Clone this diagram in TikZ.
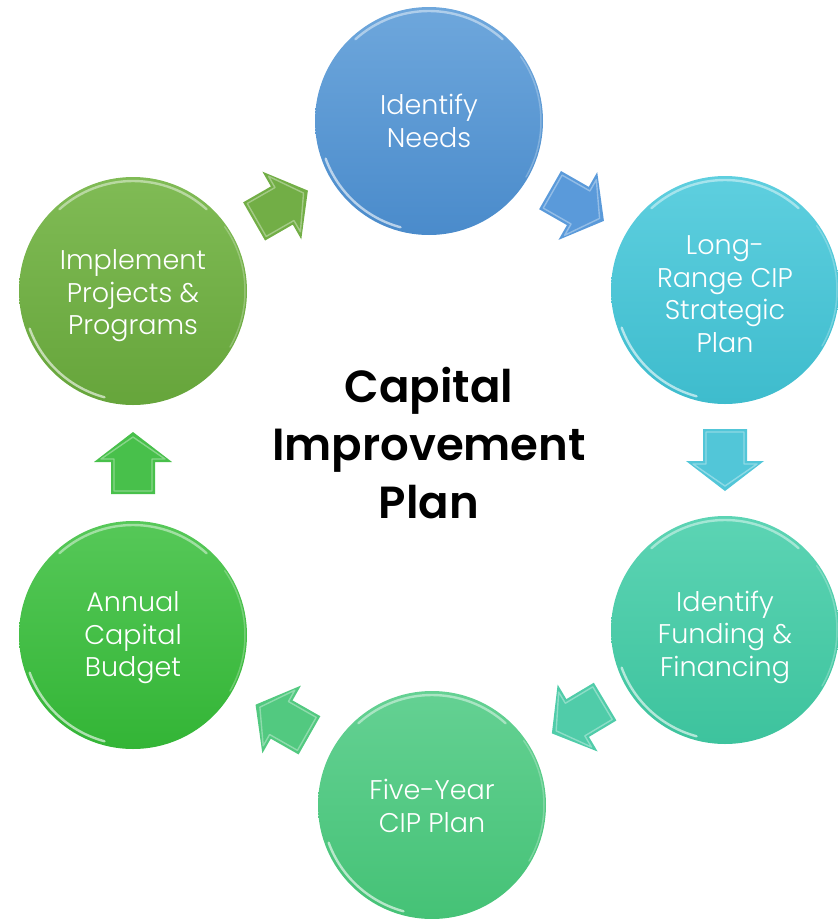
\documentclass[tikz,border=0pt]{standalone}
\usepackage{fontspec}
\setmainfont{Poppins}[UprightFont=* Light, BoldFont=* SemiBold]
\usetikzlibrary{calc}

% stage colours
\definecolor{needsT}{HTML}{6EA7DC}\definecolor{needsB}{HTML}{4A8BCB}
\definecolor{longT}{HTML}{5ECFDF}\definecolor{longB}{HTML}{3EBCCD}
\definecolor{fundT}{HTML}{5CD4B4}\definecolor{fundB}{HTML}{3DC39D}
\definecolor{fiveT}{HTML}{64D193}\definecolor{fiveB}{HTML}{45C276}
\definecolor{annT}{HTML}{56C858}\definecolor{annB}{HTML}{33B536}
\definecolor{implT}{HTML}{80BB55}\definecolor{implB}{HTML}{66A53B}
% arrow colours
\definecolor{arBlue}{HTML}{5A9ADA}
\definecolor{arCyan}{HTML}{52C6D8}
\definecolor{arTeal}{HTML}{50CCA9}
\definecolor{arMint}{HTML}{52C980}
\definecolor{arGreen}{HTML}{48C04B}
\definecolor{arOlive}{HTML}{72AE46}

\tikzset{
  stage/.style={circle, minimum size=228pt, inner sep=0pt, draw=none},
  stagetext/.style={text=white, align=center, inner sep=0pt,
    font=\fontsize{27}{32.5}\selectfont},
  rim/.style={white, opacity=.45, line width=2.4pt, line cap=round},
  pics/cyclearrow/.style={
    code={
      \fill[#1] (-31,-22) -- (1,-22) -- (1,-39) -- (31,0) -- (1,39)
                -- (1,22) -- (-31,22) -- cycle;
      \draw[white, opacity=.35, line width=1.4pt, line join=round]
        (-28,-19) -- (4,-19) -- (4,-32) -- (26,0) -- (4,32)
        -- (4,19) -- (-28,19) -- cycle;
    }
  }
}

% glossy highlights along the rim of a stage circle
\newcommand\glossrim[1]{%
  \draw[rim] ($(#1.center)+(228:110)$) arc[start angle=228, end angle=312, radius=110];
  \draw[rim, opacity=.6] ($(#1.center)+(105:110)$) arc[start angle=105, end angle=160, radius=110];
  \draw[rim, opacity=.25, line width=1.5pt] ($(#1.center)+(-35:112)$) arc[start angle=-35, end angle=30, radius=112];
}

\newcommand\cyclearrow[3]{%
  \path let \p1=($(#2)-(#1)$), \n1={atan2(\y1,\x1)} in
    pic[rotate=\n1] at ($(#1)!0.5!(#2)$) {cyclearrow=#3};
}

\begin{document}
\begin{tikzpicture}[x=1pt, y=-1pt]
  \useasboundingbox (0,0) rectangle (838,919);

  % the six stages of the cycle
  \node[stage, top color=needsT, bottom color=needsB,
        label={[stagetext, yshift=0pt]center:{Identify\\Needs}}] (needs) at (429,121) {};
  \node[stage, top color=longT, bottom color=longB,
        label={[stagetext, yshift=-4pt]center:{Long-\\Range CIP\\Strategic\\Plan}}] (long) at (725,290) {};
  \node[stage, top color=fundT, bottom color=fundB,
        label={[stagetext, yshift=-7pt]center:{Identify\\Funding \&\\Financing}}] (fund) at (725,630) {};
  \node[stage, top color=fiveT, bottom color=fiveB,
        label={[stagetext, yshift=-1pt]center:{Five-Year\\CIP Plan}}] (five) at (432,805) {};
  \node[stage, top color=annT, bottom color=annB,
        label={[stagetext, yshift=-3pt]center:{Annual\\Capital\\Budget}}] (annual) at (133,635) {};
  \node[stage, top color=implT, bottom color=implB,
        label={[stagetext, yshift=-5pt]center:{Implement\\Projects \&\\Programs}}] (impl) at (133,291) {};

  \foreach \n in {needs,long,fund,five,annual,impl}{\glossrim{\n}}

  % block arrows between consecutive stages
  \cyclearrow{needs}{long}{arBlue}
  \cyclearrow{long}{fund}{arCyan}
  \cyclearrow{fund}{five}{arTeal}
  \cyclearrow{five}{annual}{arMint}
  \cyclearrow{annual}{impl}{arGreen}
  \cyclearrow{impl}{needs}{arOlive}

  % centre title
  \node[align=center, font=\bfseries\fontsize{45}{58}\selectfont] (title) at (429,443)
    {Capital\\Improvement\\Plan};
\end{tikzpicture}
\end{document}
